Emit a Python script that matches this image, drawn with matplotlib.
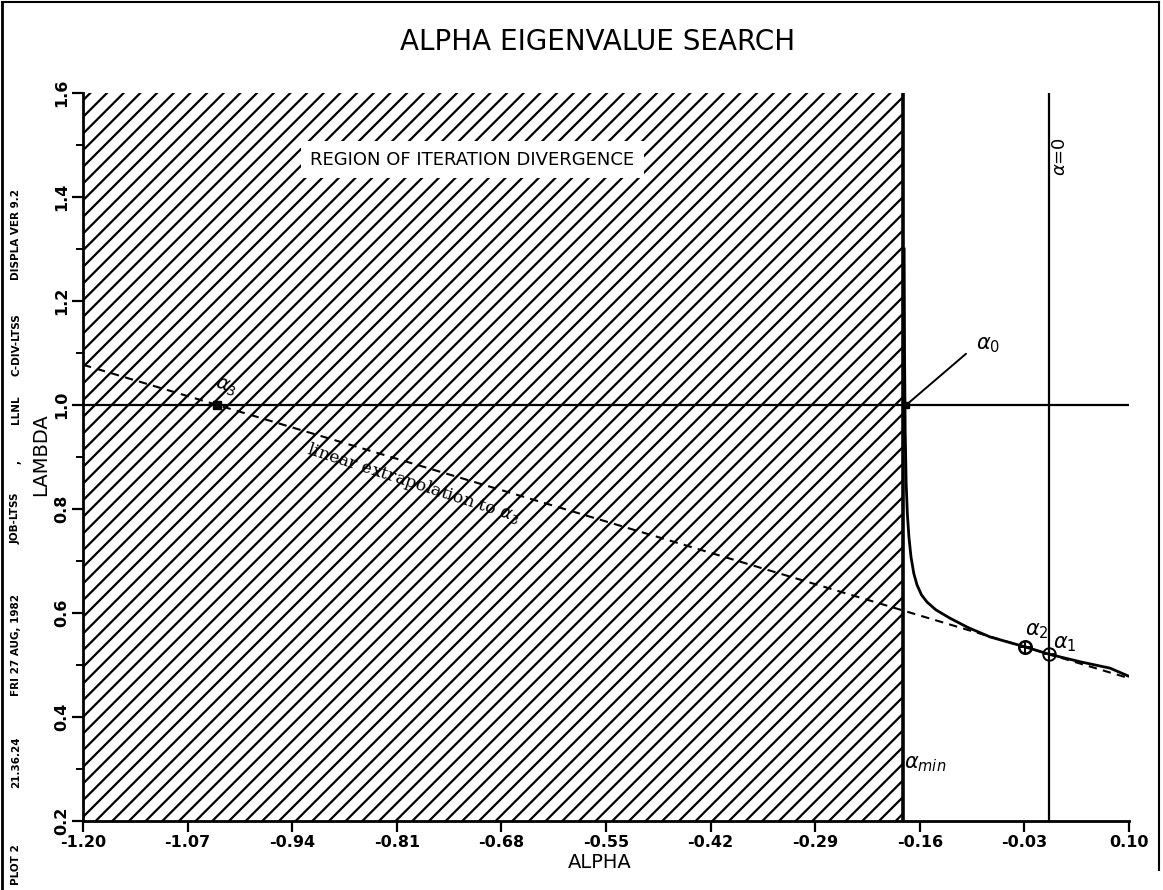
import matplotlib
matplotlib.use("Agg")
import matplotlib.pyplot as plt
from matplotlib.patches import Rectangle
from matplotlib.lines import Line2D
from matplotlib.ticker import MultipleLocator

# data
x_ticks = [-1.20, -1.07, -0.94, -0.81, -0.68, -0.55, -0.42, -0.29, -0.16, -0.03, 0.10]
y_ticks = [0.2, 0.4, 0.6, 0.8, 1.0, 1.2, 1.4, 1.6]

# lambda(alpha) curve, right of the divergence boundary
curve_alpha = [-0.1795, -0.1790, -0.1782, -0.1770, -0.1755, -0.1735, -0.1710, -0.1675,
               -0.1635, -0.158, -0.151, -0.140, -0.1225, -0.100, -0.0727, -0.050,
               -0.0292, 0.0, 0.040, 0.0764, 0.0988]
curve_lambda = [1.30, 1.10, 0.95, 0.85, 0.790, 0.745, 0.708, 0.676,
                0.654, 0.635, 0.621, 0.606, 0.590, 0.572, 0.554, 0.544,
                0.535, 0.521, 0.506, 0.494, 0.479]

alpha_min = -0.181
alpha_0 = (-0.177, 1.0)
alpha_1 = (0.0, 0.521)
alpha_2 = (-0.029, 0.535)
alpha_3 = (-1.033, 1.0)
extrap_alpha = [-1.20, 0.10]

plt.rcParams['hatch.linewidth'] = 1.6

fig = plt.figure(figsize=(11.63, 8.90), dpi=100)
ax = fig.add_axes([0.0714, 0.0775, 0.8994, 0.818])
ax.set_xlim(-1.20, 0.10)
ax.set_ylim(0.2, 1.6)

# hatched divergence region
ax.add_patch(Rectangle((-1.20, 0.2), alpha_min + 1.20, 1.4, fill=False,
                       edgecolor='black', linewidth=0, hatch='//'))
ax.plot([alpha_min, alpha_min], [0.2, 1.6], color='black', lw=2.6)

# reference lines
ax.axhline(1.0, color='black', lw=1.6)
ax.plot([0.0, 0.0], [0.2, 1.6], color='black', lw=1.6)

# the curve
ax.plot(curve_alpha, curve_lambda, color='black', lw=2.0)

# linear extrapolation through alpha_1 and alpha_3
slope = (alpha_1[1] - alpha_3[1]) / (alpha_1[0] - alpha_3[0])
extrap_lambda = [alpha_1[1] + slope * (a - alpha_1[0]) for a in extrap_alpha]
ax.plot(extrap_alpha, extrap_lambda, color='black', lw=1.5, linestyle=(0, (4, 3)))

# markers
ax.plot(*alpha_3, marker='s', color='black', ms=6)
ax.plot(*alpha_2, marker='o', mfc='none', mec='black', ms=9, mew=1.8)
ax.plot(*alpha_2, marker='+', color='black', ms=9, mew=1.5)
ax.plot(*alpha_1, marker='o', mfc='none', mec='black', ms=9, mew=1.4)
ax.plot(*alpha_1, marker='+', color='black', ms=9, mew=1.2)
ax.plot(*alpha_0, marker='s', color='black', ms=4)

# annotations
ax.annotate('', xy=alpha_0, xytext=(-0.100, 1.102),
            arrowprops=dict(arrowstyle='-', color='black', lw=1.4))
ax.text(-0.090, 1.115, r'$\alpha_0$', fontsize=15, ha='left', va='center')
ax.text(-0.029, 0.565, r'$\alpha_2$', fontsize=15, ha='left', va='center')
ax.text(0.006, 0.540, r'$\alpha_1$', fontsize=15, ha='left', va='center')
ax.text(alpha_min + 0.001, 0.31, r'$\alpha_{min}$', fontsize=15, ha='left', va='center')
ax.text(-1.022, 1.035, r'$\alpha_3$', fontsize=14, ha='center', va='center', rotation=-20)
ax.text(-0.790, 0.850, r'linear extrapolation to $\alpha_3$', family='DejaVu Serif',
        fontsize=12.5, ha='center', va='center', rotation=-18, rotation_mode='anchor')
ax.text(0.0143, 1.477, r'$\alpha$=0', fontsize=13, ha='center', va='center', rotation=90)

ax.text(-0.716, 1.472, 'REGION OF ITERATION DIVERGENCE', fontsize=13,
        ha='center', va='center',
        bbox=dict(facecolor='white', edgecolor='none', pad=7))

# axes styling
ax.spines['top'].set_visible(False)
ax.spines['right'].set_visible(False)
ax.spines['left'].set_linewidth(2)
ax.spines['bottom'].set_linewidth(2)
ax.set_xticks(x_ticks)
ax.set_xticklabels([f'{v:.2f}' for v in x_ticks], fontweight='bold', fontsize=11.5)
ax.set_yticks(y_ticks)
ax.set_yticklabels([f'{v:.1f}' for v in y_ticks], fontweight='bold', fontsize=11.5,
                   rotation=90, va='center')
ax.yaxis.set_minor_locator(MultipleLocator(0.1))
ax.tick_params(axis='both', which='major', direction='out', length=8, width=1.6, pad=2)
ax.tick_params(axis='y', which='minor', direction='out', length=5, width=1.4)

# titles and labels
fig.text(0.514, 0.953, 'ALPHA EIGENVALUE SEARCH', fontsize=20, ha='center', va='center')
fig.text(0.516, 0.031, 'ALPHA', fontsize=14, ha='center', va='center')
fig.text(0.035, 0.489, 'LAMBDA', fontsize=14, ha='center', va='center', rotation=90)

# plotter stamp along the left margin
stamp = [('PLOT 2', 865), ('21.36.24', 762), ('FRI 27 AUG, 1982', 645),
         ('JOB-LTSS', 518), (',', 462), ('LLNL', 410), ('C-DIV-LTSS', 345),
         ('DISPLA VER 9.2', 235)]
for txt, ypix in stamp:
    fig.text(16 / 1163, 1 - ypix / 890, txt, fontsize=7.5, fontweight='bold',
             ha='center', va='center', rotation=90)

# outer frame
fig.add_artist(Line2D([2 / 1163, 2 / 1163], [0, 1 - 2 / 890], color='black', lw=2))
fig.add_artist(Line2D([2 / 1163, 1159 / 1163], [1 - 2 / 890, 1 - 2 / 890], color='black', lw=1.5))
fig.add_artist(Line2D([1159 / 1163, 1159 / 1163], [1 - 2 / 890, 1 - 870 / 890], color='black', lw=1.5))

fig.savefig('out.png', dpi=100)
